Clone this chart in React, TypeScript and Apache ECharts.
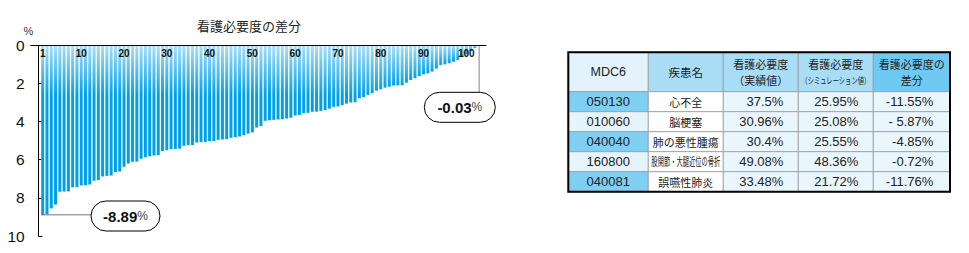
import React, { useEffect, useRef } from "react";
import * as echarts from "echarts";

// Difference in nursing-need level (percentage points, plotted downward), ranked
const diffValues = [
  8.89, 8.85, 8.55, 8.35, 7.68, 7.67, 7.66, 7.45, 7.43, 7.35,
  7.33, 7.3, 7.1, 7.07, 6.88, 6.85, 6.83, 6.65, 6.62, 6.37,
  6.2, 6.11, 6.1, 5.95, 5.87, 5.82, 5.78, 5.76, 5.55, 5.5,
  5.45, 5.43, 5.42, 5.27, 5.24, 5.23, 5.1, 5.08, 5.07, 5.03,
  5.02, 4.96, 4.94, 4.92, 4.85, 4.82, 4.78, 4.71, 4.63, 4.57,
  4.31, 4.24, 3.96, 3.93, 3.91, 3.89, 3.88, 3.84, 3.8, 3.68,
  3.65, 3.56, 3.54, 3.49, 3.48, 3.44, 3.4, 3.32, 3.23, 3.21,
  3.14, 3.06, 3.0, 2.99, 2.78, 2.71, 2.6, 2.51, 2.38, 2.31,
  2.22, 2.17, 2.11, 2.1, 2.09, 1.96, 1.82, 1.73, 1.61, 1.52,
  1.47, 1.38, 1.22, 1.03, 1.0, 0.94, 0.86, 0.77, 0.62, 0.48,
  0.3, 0.15, 0.03,
];
const rankIndex = diffValues.map((_, i) => i + 1);
const xTickLabels = [1, 10, 20, 30, 40, 50, 60, 70, 80, 90, 100];
const yTickValues = [0, 2, 4, 6, 8, 10];
const chartTitle = "看護必要度の差分";
const maxCalloutText = "-8.89";
const minCalloutText = "-0.03";

// Table
const headerLine1 = ["MDC6", "疾患名", "看護必要度", "看護必要度", "看護必要度の"];
const headerLine2 = ["", "", "（実績値）", "（シミュレーション値）", "差分"];
const mdcCodes = ["050130", "010060", "040040", "160800", "040081"];
const diseaseNames = ["心不全", "脳梗塞", "肺の悪性腫瘍", "股関節・大腿近位の骨折", "誤嚥性肺炎"];
const actualValues = ["37.5%", "30.96%", "30.4%", "49.08%", "33.48%"];
const simValues = ["25.95%", "25.08%", "25.55%", "48.36%", "21.72%"];
const diffTexts = ["-11.55%", "- 5.87%", "-4.85%", "-0.72%", "-11.76%"];

const JP = "'Noto Sans CJK JP', sans-serif";
const LAT = "'Liberation Sans', Arial, sans-serif";

const Y_MAX = 10;
const GRID_TOP = 45.3;
const GRID_BOTTOM = 17;
const CHART_H = 253;
const FADE_PX = 50;

export default function App() {
  const ref = useRef<HTMLDivElement>(null);
  useEffect(() => {
    if (!ref.current) return;
    const chart = echarts.init(ref.current, null, { renderer: "svg" });
    const pxPerUnit = (CHART_H - GRID_TOP - GRID_BOTTOM) / Y_MAX;
    const barColor = (v: number) => {
      const h = Math.max(v * pxPerUnit, 0.5);
      const off = Math.min(1, FADE_PX / h);
      const stops = [
        { offset: 0, color: "#aadff7" },
        { offset: off, color: "#00a0e8" },
      ];
      if (off < 1) stops.push({ offset: 1, color: "#00a0e8" });
      return new echarts.graphic.LinearGradient(0, 0, 0, 1, stops);
    };
    const option: any = {
      animation: false,
      backgroundColor: "#ffffff",
      grid: { left: 30.7, right: 483, top: GRID_TOP, bottom: GRID_BOTTOM },
      xAxis: {
        type: "value",
        position: "top",
        min: -1.805,
        max: 104.6,
        z: 10,
        axisLine: { show: true, lineStyle: { color: "#000", width: 1 } },
        axisTick: { show: false },
        splitLine: { show: false },
        axisLabel: {
          inside: true,
          customValues: xTickLabels,
          fontSize: 10,
          fontWeight: "bold",
          fontFamily: LAT,
          color: "#111",
          margin: 3,
          hideOverlap: false,
        },
      },
      yAxis: {
        type: "value",
        inverse: true,
        min: 0,
        max: Y_MAX,
        interval: 2,
        axisLine: { show: true, lineStyle: { color: "#000", width: 1 } },
        axisTick: { show: true, inside: true, length: 4, lineStyle: { color: "#000" } },
        splitLine: { show: false },
        axisLabel: {
          fontSize: 15.5,
          fontFamily: LAT,
          color: "#111",
          margin: 6,
          customValues: yTickValues,
        },
      },
      series: [
        {
          type: "bar",
          barWidth: 3,
          z: 2,
          data: rankIndex.map((k, i) => ({
            value: [k, diffValues[i]],
            itemStyle: { color: barColor(diffValues[i]) },
          })),
          silent: true,
        },
      ],
    };
    chart.setOption(option);

    const pFirst = chart.convertToPixel({ xAxisIndex: 0, yAxisIndex: 0 }, [rankIndex[0], diffValues[0]]) as number[];
    const last = rankIndex.length - 1;
    const pLast = chart.convertToPixel({ xAxisIndex: 0, yAxisIndex: 0 }, [rankIndex[last], diffValues[last]]) as number[];

    const pill = (x: number, y: number, w: number, h: number, val: string) => [
      {
        type: "rect",
        shape: { x, y, width: w, height: h, r: h / 2 },
        style: { fill: "#fff", stroke: "#000", lineWidth: 1 },
        z: 10,
      },
      {
        type: "text",
        x: x + w / 2,
        y: y + h / 2,
        z: 11,
        style: {
          text: `{b|${val}}{p|%}`,
          align: "center",
          verticalAlign: "middle",
          rich: {
            b: { fontSize: 15, fontWeight: "bold", fontFamily: LAT, fill: "#111" },
            p: { fontSize: 12, fontFamily: LAT, fill: "#444" },
          },
        },
      },
    ];

    // Table
    const colX = [568.3, 648.3, 723.3, 798.3, 873.3, 950];
    const rowY = [52.3, 91.7, 111.7, 131.7, 151.7, 171.7, 191.7];
    const headerFill = ["#e4f3fb", "#a9ddf6", "#a9ddf6", "#a9ddf6", "#6ecaf2"];
    const els: any[] = [];
    for (let c = 0; c < 5; c++) {
      els.push({
        type: "rect",
        shape: { x: colX[c], y: rowY[0], width: colX[c + 1] - colX[c], height: rowY[1] - rowY[0] },
        style: { fill: headerFill[c], stroke: "#999", lineWidth: 0.8 },
      });
      const cx = (colX[c] + colX[c + 1]) / 2;
      if (headerLine2[c] === "") {
        els.push({
          type: "text",
          x: cx,
          y: (rowY[0] + rowY[1]) / 2,
          style: {
            text: headerLine1[c],
            align: "center",
            verticalAlign: "middle",
            fontSize: c === 0 ? 12.5 : 11.5,
            fontFamily: c === 0 ? LAT : JP,
            fill: "#222",
          },
        });
      } else {
        els.push({
          type: "text",
          x: cx,
          y: 64.3,
          style: { text: headerLine1[c], align: "center", verticalAlign: "middle", fontSize: 11, fontFamily: JP, fill: "#222" },
        });
        const small = c === 3;
        els.push({
          type: "text",
          x: cx,
          y: 79.5,
          scaleX: small ? 0.7 : 1,
          style: {
            text: headerLine2[c],
            align: "center",
            verticalAlign: "middle",
            fontSize: small ? 9 : 11,
            fontFamily: JP,
            fill: "#222",
          },
        });
      }
    }
    for (let r = 0; r < mdcCodes.length; r++) {
      const y0 = rowY[r + 1];
      const h = rowY[r + 2] - y0;
      const cy = y0 + h / 2;
      const fills = [r % 2 === 0 ? "#7fcff3" : "#e6f4fb", "#ffffff", "#eaf6fd", "#eaf6fd", "#eaf6fd"];
      for (let c = 0; c < 5; c++) {
        els.push({
          type: "rect",
          shape: { x: colX[c], y: y0, width: colX[c + 1] - colX[c], height: h },
          style: { fill: fills[c], stroke: "#999", lineWidth: 0.8 },
        });
      }
      els.push({
        type: "text",
        x: (colX[0] + colX[1]) / 2,
        y: cy,
        style: { text: mdcCodes[r], align: "center", verticalAlign: "middle", fontSize: 13, fontFamily: LAT, fill: "#222" },
      });
      const name = diseaseNames[r];
      const condensed = name.length > 8;
      els.push({
        type: "text",
        x: (colX[1] + colX[2]) / 2,
        y: cy,
        scaleX: condensed ? 0.57 : 1,
        style: { text: name, align: "center", verticalAlign: "middle", fontSize: 11, fontFamily: JP, fill: "#222" },
      });
      const nums = [actualValues[r], simValues[r], diffTexts[r]];
      const pad = [15, 15, 16.7];
      for (let k = 0; k < 3; k++) {
        els.push({
          type: "text",
          x: colX[k + 3] - pad[k],
          y: cy,
          style: { text: nums[k], align: "right", verticalAlign: "middle", fontSize: 13, fontFamily: LAT, fill: "#222" },
        });
      }
    }
    els.push({
      type: "rect",
      shape: { x: colX[0], y: rowY[0], width: colX[5] - colX[0], height: rowY[6] - rowY[0] },
      style: { fill: "none", stroke: "#000", lineWidth: 2 },
      z: 5,
    });

    chart.setOption({
      graphic: [
        {
          type: "text",
          x: 249,
          y: 25,
          style: { text: chartTitle, align: "center", verticalAlign: "middle", fontSize: 13, fontFamily: JP, fill: "#222" },
        },
        {
          type: "text",
          x: 28.5,
          y: 31,
          style: { text: "%", align: "center", verticalAlign: "middle", fontSize: 11, fontFamily: LAT, fill: "#333" },
        },
        {
          type: "line",
          shape: { x1: pFirst[0] - 1.5, y1: pFirst[1], x2: 91, y2: pFirst[1] },
          style: { stroke: "#777", lineWidth: 1 },
          z: 9,
        },
        ...pill(91, 201, 69, 30, maxCalloutText),
        {
          type: "line",
          shape: { x1: pLast[0], y1: 46, x2: pLast[0], y2: 92 },
          style: { stroke: "#999", lineWidth: 1.2 },
          z: 9,
        },
        ...pill(424.3, 92.3, 71, 30, minCalloutText),
        ...els,
      ],
    });
    return () => chart.dispose();
  }, []);
  return (
    <div
      ref={ref}
      style={{ position: "fixed", left: 0, top: 0, width: 969, height: 253, background: "#fff" }}
    />
  );
}
